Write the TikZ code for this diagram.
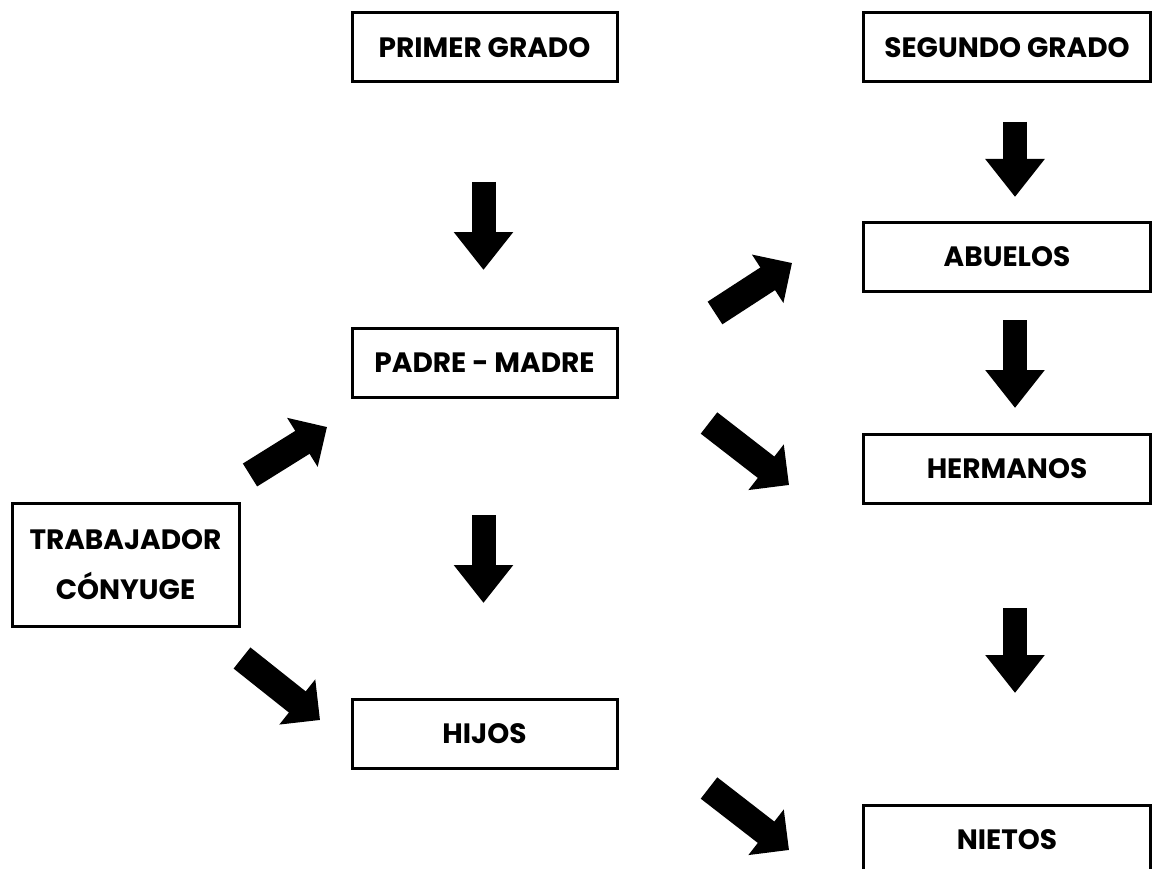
\documentclass[tikz,border=0pt]{standalone}
\usepackage{fontspec}
\setmainfont{Poppins}
\usetikzlibrary{arrows.meta}
\tikzset{
  gbox/.style={draw=black, line width=3pt, fill=white, minimum height=69pt,
    inner sep=0pt, align=center, font=\fontsize{28}{50}\selectfont\bfseries},
  narrowbox/.style={gbox, minimum width=265pt},
  rbox/.style={gbox, minimum width=287pt},
  barrow/.style={line width=24pt, line cap=butt, draw=black,
    -{Triangle[width=57pt,length=38pt]}},
  darrow/.style={line width=27pt, line cap=butt, draw=black,
    -{Triangle[width=56pt,length=29pt]}}
}
\begin{document}
\begin{tikzpicture}[x=1pt,y=-1pt]
\useasboundingbox[fill=white] (0,0) rectangle (1153,869);
% boxes
\node[narrowbox] (primer) at (484.5,47.5) {PRIMER GRADO};
\node[narrowbox] (padre) at (484.5,362.5) {PADRE - MADRE};
\node[narrowbox] (hijos) at (484.5,733.5) {HIJOS};
\node[rbox] (segundo) at (1007,47.5) {SEGUNDO GRADO};
\node[rbox] (abuelos) at (1007,256.5) {ABUELOS};
\node[rbox] (hermanos) at (1007,469) {HERMANOS};
\node[rbox] (nietos) at (1007,839.5) {NIETOS};
\node[gbox, minimum width=227pt, minimum height=123pt] (trab) at (125.5,564.5) {TRABAJADOR\\C\'ONYUGE};
% arrow end points
\coordinate (a1s) at (483.5,182); \coordinate (a1e) at (483.5,270);
\coordinate (a2s) at (483.5,515); \coordinate (a2e) at (483.5,603);
\coordinate (a3s) at (1015,122);  \coordinate (a3e) at (1015,197);
\coordinate (a4s) at (1015,320);  \coordinate (a4e) at (1015,408);
\coordinate (a5s) at (1015,608);  \coordinate (a5e) at (1015,693);
\coordinate (d1s) at (250,475);   \coordinate (d1e) at (327,427);
\coordinate (d2s) at (715,313);   \coordinate (d2e) at (792,263);
\coordinate (e1s) at (242,658);   \coordinate (e1e) at (320,720);
\coordinate (e2s) at (709,423);   \coordinate (e2e) at (789,485);
\coordinate (e3s) at (709,788);   \coordinate (e3e) at (789,850);
% arrows
\draw[barrow] (a1s) -- (a1e);
\draw[barrow] (a2s) -- (a2e);
\draw[barrow] (a3s) -- (a3e);
\draw[barrow] (a4s) -- (a4e);
\draw[barrow] (a5s) -- (a5e);
\draw[darrow] (d1s) -- (d1e);
\draw[darrow] (d2s) -- (d2e);
\draw[darrow] (e1s) -- (e1e);
\draw[darrow] (e2s) -- (e2e);
\draw[darrow] (e3s) -- (e3e);
\end{tikzpicture}
\end{document}
